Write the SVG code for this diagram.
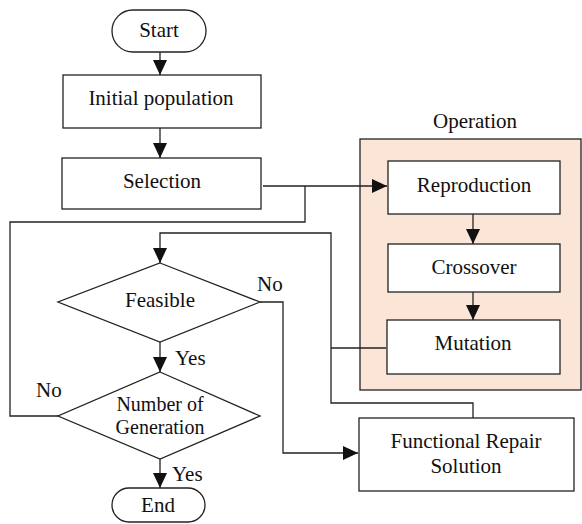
<svg xmlns="http://www.w3.org/2000/svg" width="582" height="524" viewBox="0 0 582 524">
<style>
.box{fill:#fff;stroke:#222;stroke-width:1.3}
.op{fill:#fbe5d6;stroke:#222;stroke-width:1.3}
.ln{fill:none;stroke:#222;stroke-width:1.3}
text{font-family:"Liberation Serif","Times New Roman",serif;font-size:21px;fill:#111;text-anchor:middle}
.lbl{text-anchor:start}
</style>
<defs>
<marker id="ah" markerUnits="userSpaceOnUse" markerWidth="16" markerHeight="16" viewBox="0 0 16 16" refX="15" refY="8" orient="auto">
<path d="M0,1 L15,8 L0,15 Z" fill="#111"/>
</marker>
</defs>
<g id="operation">
<rect class="op" x="360" y="139" width="221" height="251"/>
<text x="475" y="128">Operation</text>
</g>
<g id="connectors">
<path class="ln" d="M160,52 V75" marker-end="url(#ah)"/>
<path class="ln" d="M160,128 V158" marker-end="url(#ah)"/>
<path class="ln" d="M263,186 H387" marker-end="url(#ah)"/>
<path class="ln" d="M473,214 V244" marker-end="url(#ah)"/>
<path class="ln" d="M473,292 V320" marker-end="url(#ah)"/>
<path class="ln" d="M58,416 H10 V222 H305 V186"/>
<path class="ln" d="M386,348 H331"/>
<path class="ln" d="M473,419 V403 H331 V233 H160 V263" marker-end="url(#ah)"/>
<path class="ln" d="M260,302 H283 V453 H358" marker-end="url(#ah)"/>
<path class="ln" d="M160,342 V372" marker-end="url(#ah)"/>
<path class="ln" d="M160,459 V488" marker-end="url(#ah)"/>
<text class="lbl" x="257" y="291">No</text>
<text class="lbl" x="175" y="365">Yes</text>
<text class="lbl" x="36" y="397">No</text>
<text class="lbl" x="172" y="481">Yes</text>
</g>
<g id="start">
<rect class="box" x="112" y="10" width="94" height="42" rx="21"/>
<text x="159" y="37">Start</text>
</g>
<g id="initial">
<rect class="box" x="63" y="75" width="198" height="53"/>
<text x="161" y="105">Initial population</text>
</g>
<g id="selection">
<rect class="box" x="62" y="158" width="199" height="51"/>
<text x="162" y="188">Selection</text>
</g>
<g id="reproduction">
<rect class="box" x="388" y="161" width="172" height="53"/>
<text x="474" y="192">Reproduction</text>
</g>
<g id="crossover">
<rect class="box" x="388" y="244" width="172" height="48"/>
<text x="474" y="274">Crossover</text>
</g>
<g id="mutation">
<rect class="box" x="387" y="320" width="173" height="54"/>
<text x="473" y="350">Mutation</text>
</g>
<g id="feasible">
<path class="box" d="M160,263 L260,302 L160,342 L58,302 Z"/>
<text x="160" y="307">Feasible</text>
</g>
<g id="generation">
<path class="box" d="M160,372 L260,416 L160,459 L58,416 Z"/>
<text x="160" y="411" style="font-size:20px">Number of</text>
<text x="160" y="434" style="font-size:20px">Generation</text>
</g>
<g id="repair">
<rect class="box" x="359" y="418" width="215" height="73"/>
<text x="466" y="448">Functional Repair</text>
<text x="466" y="473">Solution</text>
</g>
<g id="end">
<rect class="box" x="112" y="488" width="93" height="34" rx="17"/>
<text x="158" y="512">End</text>
</g>
</svg>
